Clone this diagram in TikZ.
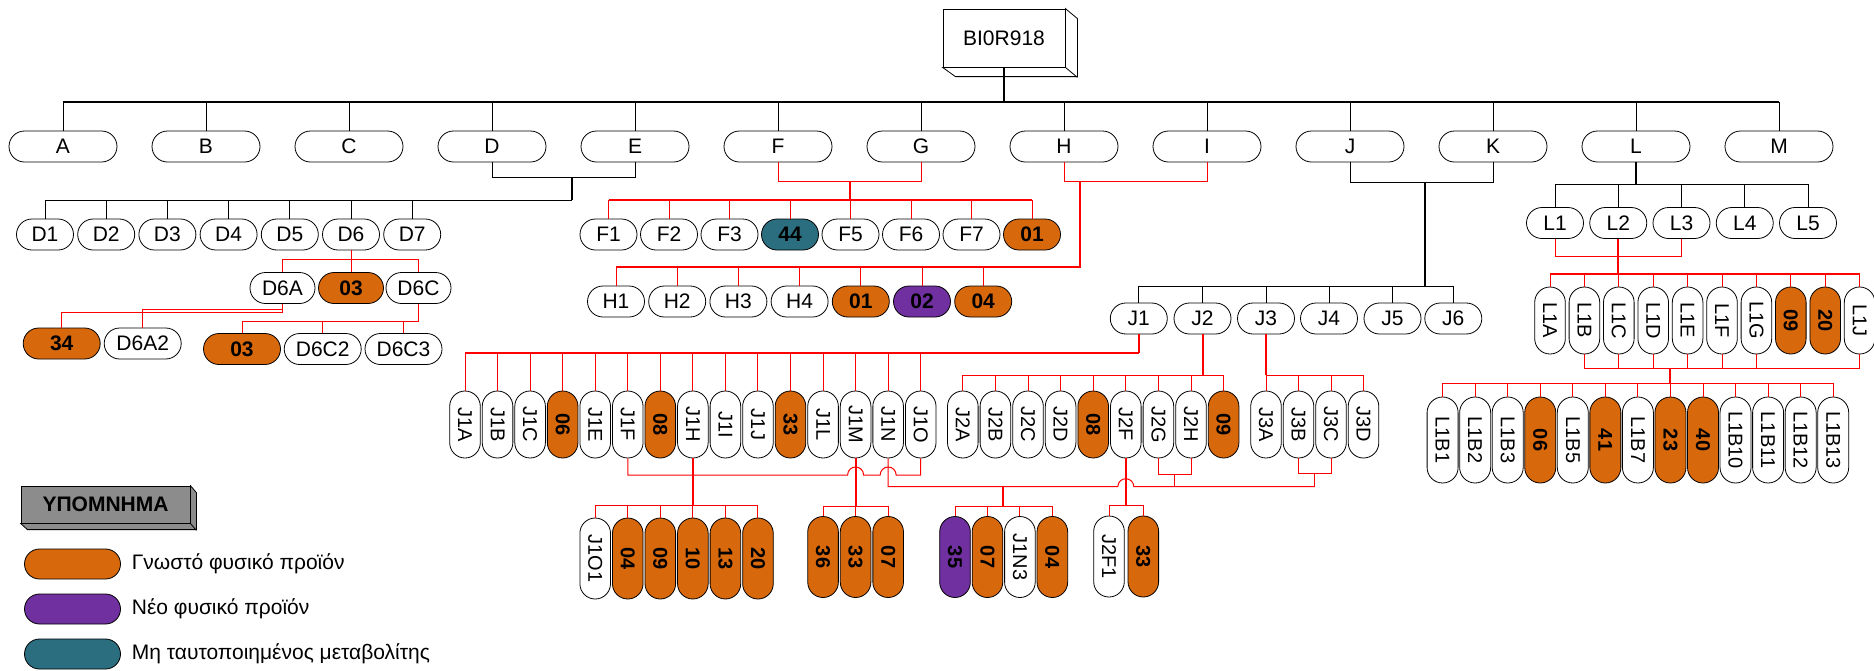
\documentclass[tikz,border=0pt]{standalone}
\usepackage{fontspec}
\setmainfont{Liberation Sans}
\usetikzlibrary{shapes.misc}
\definecolor{knownfill}{HTML}{D8680C}
\definecolor{novelfill}{HTML}{7030A0}
\definecolor{unknownfill}{HTML}{2A6E7F}
\definecolor{legendgray}{HTML}{8C8C8C}
\definecolor{treered}{HTML}{FF0000}
\tikzset{
  pill/.style={rounded rectangle, draw=black, fill=white, line width=0.8pt, inner sep=0pt, minimum width=57pt, minimum height=31pt, font=\fontsize{21}{25}\selectfont},
  toppill/.style={pill, minimum width=108pt},
  vpill/.style={pill, rotate=-90, minimum width=67pt, minimum height=30.6pt, font=\fontsize{20}{24}\selectfont},
  known/.style={fill=knownfill, execute at begin node=\bfseries},
  novel/.style={fill=novelfill, execute at begin node=\bfseries},
  unknown/.style={fill=unknownfill, execute at begin node=\bfseries},
  cube/.style={draw=black, fill=white, line width=0.8pt, inner sep=0pt, minimum width=122pt, minimum height=58pt, font=\fontsize{21}{25}\selectfont},
  treeline/.style={draw=black, line width=1pt},
  trunkline/.style={draw=black, line width=2pt},
  redline/.style={draw=treered, line width=1pt},
  redtrunk/.style={draw=treered, line width=2pt}
}

\begin{document}
\begin{tikzpicture}[x=1pt, y=-1pt]
  \useasboundingbox (0,0) rectangle (1874,670);

  % root
  \node[cube] (root) at (1004,38) {BI0R918};
  \draw[line width=0.8pt, fill=white] (root.north east) -- ++(12,10) -- ++(0,58) -- ++(-122,0) -- (root.south west) -- (root.south east) -- cycle;
  \draw[line width=0.8pt] (root.south east) -- ++(12,10);

  \node[toppill] (a) at (63,146.5) {A};
  \node[toppill] (b) at (206,146.5) {B};
  \node[toppill] (c) at (349,146.5) {C};
  \node[toppill] (d) at (492,146.5) {D};
  \node[toppill] (e) at (635,146.5) {E};
  \node[toppill] (f) at (778,146.5) {F};
  \node[toppill] (g) at (921,146.5) {G};
  \node[toppill] (h) at (1064,146.5) {H};
  \node[toppill] (i) at (1207,146.5) {I};
  \node[toppill] (j) at (1350,146.5) {J};
  \node[toppill] (k) at (1493,146.5) {K};
  \node[toppill] (l) at (1636,146.5) {L};
  \node[toppill] (m) at (1779,146.5) {M};

  % D branch
  \node[pill] (d1) at (45,234.5) {D1};
  \node[pill] (d2) at (106.2,234.5) {D2};
  \node[pill] (d3) at (167.4,234.5) {D3};
  \node[pill] (d4) at (228.6,234.5) {D4};
  \node[pill] (d5) at (289.8,234.5) {D5};
  \node[pill] (d6) at (351,234.5) {D6};
  \node[pill] (d7) at (412.2,234.5) {D7};

  \node[pill, minimum width=65pt] (d6a) at (282.5,288) {D6A};
  \node[pill, known, minimum width=65pt] (d6b) at (351,288) {03};
  \node[pill, minimum width=65pt] (d6c) at (418.5,288) {D6C};

  \node[pill, known, minimum width=77pt] (d6a1) at (61.7,343.5) {34};
  \node[pill, minimum width=77pt] (d6a2) at (142.7,343.5) {D6A2};
  \node[pill, known, minimum width=77pt] (d6c1) at (242,349) {03};
  \node[pill, minimum width=77pt] (d6c2) at (322.7,349) {D6C2};
  \node[pill, minimum width=77pt] (d6c3) at (403.5,349) {D6C3};

  % F, H branches
  \node[pill] (f1) at (608.5,234.5) {F1};
  \node[pill] (f2) at (669,234.5) {F2};
  \node[pill] (f3) at (729.5,234.5) {F3};
  \node[pill, unknown] (f4) at (790,234.5) {44};
  \node[pill] (f5) at (850.5,234.5) {F5};
  \node[pill] (f6) at (911,234.5) {F6};
  \node[pill] (f7) at (971.5,234.5) {F7};
  \node[pill, known] (f8) at (1032,234.5) {01};

  \node[pill] (h1) at (616,301.5) {H1};
  \node[pill] (h2) at (677.2,301.5) {H2};
  \node[pill] (h3) at (738.4,301.5) {H3};
  \node[pill] (h4) at (799.6,301.5) {H4};
  \node[pill, known] (h5) at (860.8,301.5) {01};
  \node[pill, novel] (h6) at (922,301.5) {02};
  \node[pill, known] (h7) at (983.2,301.5) {04};

  % J branch
  \node[pill] (j1) at (1138.8,318.5) {J1};
  \node[pill] (j2) at (1202.5,318.5) {J2};
  \node[pill] (j3) at (1266,318.5) {J3};
  \node[pill] (j4) at (1329,318.5) {J4};
  \node[pill] (j5) at (1392.5,318.5) {J5};
  \node[pill] (j6) at (1453.3,318.5) {J6};

  \node[vpill] (j1a) at (465,424.5) {J1A};
  \node[vpill] (j1b) at (497.55,424.5) {J1B};
  \node[vpill] (j1c) at (530.1,424.5) {J1C};
  \node[vpill, known] (j1d) at (562.65,424.5) {06};
  \node[vpill] (j1e) at (595.2,424.5) {J1E};
  \node[vpill] (j1f) at (627.75,424.5) {J1F};
  \node[vpill, known] (j1g) at (660.3,424.5) {08};
  \node[vpill] (j1h) at (692.85,424.5) {J1H};
  \node[vpill] (j1i) at (725.4,424.5) {J1I};
  \node[vpill] (j1j) at (757.95,424.5) {J1J};
  \node[vpill, known] (j1k) at (790.5,424.5) {33};
  \node[vpill] (j1l) at (823.05,424.5) {J1L};
  \node[vpill] (j1m) at (855.6,424.5) {J1M};
  \node[vpill] (j1n) at (888.15,424.5) {J1N};
  \node[vpill] (j1o) at (920.7,424.5) {J1O};

  \node[vpill, minimum width=81pt] (j1o1) at (595.2,558.5) {J1O1};
  \node[vpill, known, minimum width=81pt] (j1o2) at (627.75,558.5) {04};
  \node[vpill, known, minimum width=81pt] (j1o3) at (660.3,558.5) {09};
  \node[vpill, known, minimum width=81pt] (j1o4) at (692.85,558.5) {10};
  \node[vpill, known, minimum width=81pt] (j1o5) at (725.4,558.5) {13};
  \node[vpill, known, minimum width=81pt] (j1o6) at (757.95,558.5) {20};

  \node[vpill, known, minimum width=81pt] (j1m1) at (823.05,557) {36};
  \node[vpill, known, minimum width=81pt] (j1m2) at (855.6,557) {33};
  \node[vpill, known, minimum width=81pt] (j1m3) at (888.15,557) {07};

  \node[vpill, novel, minimum width=81pt] (j1n1) at (955,557) {35};
  \node[vpill, known, minimum width=81pt] (j1n2) at (987.45,557) {07};
  \node[vpill, minimum width=81pt] (j1n3) at (1019.9,557) {J1N3};
  \node[vpill, known, minimum width=81pt] (j1n4) at (1052.35,557) {04};

  \node[vpill] (j2a) at (962.8,424.5) {J2A};
  \node[vpill] (j2b) at (995.4,424.5) {J2B};
  \node[vpill] (j2c) at (1028,424.5) {J2C};
  \node[vpill] (j2d) at (1060.6,424.5) {J2D};
  \node[vpill, known] (j2e) at (1093.2,424.5) {08};
  \node[vpill] (j2f) at (1125.8,424.5) {J2F};
  \node[vpill] (j2g) at (1158.4,424.5) {J2G};
  \node[vpill] (j2h) at (1191,424.5) {J2H};
  \node[vpill, known] (j2i) at (1223.6,424.5) {09};

  \node[vpill, minimum width=81pt] (j2f1) at (1109,556.5) {J2F1};
  \node[vpill, known, minimum width=81pt] (j2f2) at (1143.3,556.5) {33};

  \node[vpill] (j3a) at (1266,424.5) {J3A};
  \node[vpill] (j3b) at (1298.5,424.5) {J3B};
  \node[vpill] (j3c) at (1331,424.5) {J3C};
  \node[vpill] (j3d) at (1363.5,424.5) {J3D};

  % L branch
  \node[pill] (l1) at (1555,223) {L1};
  \node[pill] (l2) at (1618.25,223) {L2};
  \node[pill] (l3) at (1681.5,223) {L3};
  \node[pill] (l4) at (1744.75,223) {L4};
  \node[pill] (l5) at (1808,223) {L5};

  \node[vpill] (l1a) at (1550,320.5) {L1A};
  \node[vpill] (l1b) at (1584.4,320.5) {L1B};
  \node[vpill] (l1c) at (1618.8,320.5) {L1C};
  \node[vpill] (l1d) at (1653.2,320.5) {L1D};
  \node[vpill] (l1e) at (1687.6,320.5) {L1E};
  \node[vpill] (l1f) at (1722,320.5) {L1F};
  \node[vpill] (l1g) at (1756.4,320.5) {L1G};
  \node[vpill, known] (l1h) at (1790.8,320.5) {09};
  \node[vpill, known] (l1i) at (1825.2,320.5) {20};
  \node[vpill] (l1j) at (1859.6,320.5) {L1J};

  \node[vpill, minimum width=86pt, minimum height=31pt] (l1b1) at (1442.6,440) {L1B1};
  \node[vpill, minimum width=86pt, minimum height=31pt] (l1b2) at (1475.15,440) {L1B2};
  \node[vpill, minimum width=86pt, minimum height=31pt] (l1b3) at (1507.7,440) {L1B3};
  \node[vpill, known, minimum width=86pt, minimum height=31pt] (l1b4) at (1540.25,440) {06};
  \node[vpill, minimum width=86pt, minimum height=31pt] (l1b5) at (1572.8,440) {L1B5};
  \node[vpill, known, minimum width=86pt, minimum height=31pt] (l1b6) at (1605.35,440) {41};
  \node[vpill, minimum width=86pt, minimum height=31pt] (l1b7) at (1637.9,440) {L1B7};
  \node[vpill, known, minimum width=86pt, minimum height=31pt] (l1b8) at (1670.45,440) {23};
  \node[vpill, known, minimum width=86pt, minimum height=31pt] (l1b9) at (1703,440) {40};
  \node[vpill, minimum width=86pt, minimum height=31pt] (l1b10) at (1735.55,440) {L1B10};
  \node[vpill, minimum width=86pt, minimum height=31pt] (l1b11) at (1768.1,440) {L1B11};
  \node[vpill, minimum width=86pt, minimum height=31pt] (l1b12) at (1800.65,440) {L1B12};
  \node[vpill, minimum width=86pt, minimum height=31pt] (l1b13) at (1833.2,440) {L1B13};

  % legend
  \node[draw=black, fill=legendgray, line width=0.8pt, minimum width=169pt, minimum height=37pt, font=\fontsize{21}{25}\selectfont\bfseries] (legend) at (105.5,504.5) {ΥΠΟΜΝΗΜΑ};
  \draw[line width=0.8pt, fill=legendgray] (legend.north east) -- ++(6,7) -- ++(0,37) -- ++(-169,0) -- (legend.south west) -- (legend.south east) -- cycle;
  \draw[line width=0.8pt] (legend.south east) -- ++(6,7);
  \node[pill, known, minimum width=96pt, minimum height=30pt] (keyknown) at (72.5,564) {};
  \node[pill, novel, minimum width=96pt, minimum height=30pt] (keynovel) at (72.5,609) {};
  \node[pill, unknown, minimum width=96pt, minimum height=30pt] (keyunknown) at (72.5,654) {};
  \node[anchor=west, inner sep=0pt, font=\fontsize{21}{25}\selectfont] (keyknowntext) at (131.7,564) {Γνωστό φυσικό προϊόν};
  \node[anchor=west, inner sep=0pt, font=\fontsize{21}{25}\selectfont] (keynoveltext) at (131.7,609) {Νέο φυσικό προϊόν};
  \node[anchor=west, inner sep=0pt, font=\fontsize{21}{25}\selectfont] (keyunknowntext) at (131.7,654) {Μη ταυτοποιημένος μεταβολίτης};

  % connectors: top level
  \coordinate (rootbus) at (1004,102);
  \draw[trunkline] (root.south) -- (rootbus);
  \draw[treeline, line width=1.5pt] (a.north |- rootbus) -- (m.north |- rootbus);
  \foreach \n in {a,b,c,d,e,f,g,h,i,j,k,l,m} \draw[treeline] (rootbus) -| (\n.north);

  % D, E
  \coordinate (dej) at (571.5,177);
  \coordinate (dbus) at (571.5,200);
  \draw[treeline] (d.south) -- ++(0,15) -| (e.south);
  \draw[trunkline] (dej) -- (dbus);
  \draw[treeline] (d1.north |- dbus) -- (dbus);
  \foreach \n in {d1,d2,d3,d4,d5,d6,d7} \draw[treeline] (dbus) -| (\n.north);
  \coordinate (d6bus) at (351,259);
  \draw[redline] (d6.south) -- (d6bus);
  \foreach \n in {d6a,d6b,d6c} \draw[redline] (d6bus) -| (\n.north);
  \draw[redline] (d6a.south) -- ++(0,6) -| (d6a2.north);
  \draw[redline] (d6a.south) -- ++(0,9) -| (d6a1.north);
  \draw[redline] (d6c.south) -- ++(0,18) coordinate (d6cbus);
  \foreach \n in {d6c1,d6c2,d6c3} \draw[redline] (d6cbus) -| (\n.north);

  % F, G
  \coordinate (fgj) at (850,181);
  \coordinate (fgbus) at (850,200);
  \draw[redline] (f.south) -- ++(0,19) -| (g.south);
  \draw[redtrunk] (fgj) -- (fgbus);
  \draw[redline, line width=1.5pt] (f1.north |- fgbus) -- (f8.north |- fgbus);
  \foreach \n in {f1,f2,f3,f4,f5,f6,f7,f8} \draw[redline] (fgbus) -| (\n.north);

  % H, I
  \coordinate (hij) at (1080,181);
  \coordinate (hibus) at (1080,267);
  \draw[redline] (h.south) -- ++(0,19) -| (i.south);
  \draw[redtrunk] (hij) -- (hibus) -- (h1.north |- hibus);
  \foreach \n in {h1,h2,h3,h4,h5,h6,h7} \draw[redline] (hibus) -| (\n.north);

  % J, K
  \coordinate (jkj) at (1425,182);
  \coordinate (jkbus) at (1425,286);
  \draw[treeline] (j.south) -- ++(0,20) -| (k.south);
  \draw[trunkline] (jkj) -- (jkbus);
  \draw[treeline] (j1.north |- jkbus) -- (j6.north |- jkbus);
  \foreach \n in {j1,j2,j3,j4,j5,j6} \draw[treeline] (jkbus) -| (\n.north);

  \coordinate (j1bus) at (1138.8,353);
  \draw[redtrunk] (j1.south) -- (j1bus);
  \draw[redline, line width=1.5pt] (j1a.west |- j1bus) -- (j1bus);
  \foreach \n in {j1a,j1b,j1c,j1d,j1e,j1f,j1g,j1h,j1i,j1j,j1k,j1l,j1m,j1n,j1o} \draw[redline] (j1bus) -| (\n.west);

  \coordinate (hopa) at (847.6,475);
  \coordinate (hopb) at (880.15,475);
  \draw[redline] (j1f.east) |- (hopa) arc[start angle=180, end angle=0, radius=8pt] -- (hopb) arc[start angle=180, end angle=0, radius=8pt] -| (j1o.east);
  \coordinate (j1hbus) at (692.85,505.7);
  \draw[redtrunk] (j1h.east) -- (j1hbus);
  \draw[redline] (j1o1.west |- j1hbus) -- (j1o6.west |- j1hbus);
  \foreach \n in {j1o1,j1o2,j1o3,j1o4,j1o5,j1o6} \draw[redline] (j1hbus) -| (\n.west);

  \coordinate (j1mbus) at (855.6,506.7);
  \draw[redtrunk] (j1m.east) -- (j1mbus);
  \foreach \n in {j1m1,j1m2,j1m3} \draw[redline] (j1mbus) -| (\n.west);

  \coordinate (hopc) at (1117.8,486.7);
  \coordinate (nbusend) at (1314.75,486.7);
  \draw[redline] (j1n.east) |- (hopc) arc[start angle=180, end angle=0, radius=8pt] -- (nbusend);
  \draw[redline] (j2g.east) -- ++(0,16.3) -| (j2h.east);
  \coordinate (j2ghj) at (1174.7,474.3);
  \draw[redline] (j2ghj) -- (j2ghj |- nbusend);
  \draw[redline] (j3b.east) -- ++(0,14.7) -| (j3c.east);
  \coordinate (j3bcj) at (1314.75,472.7);
  \draw[redline] (j3bcj) -- (nbusend);
  \coordinate (nkj) at (1003.3,486.7);
  \coordinate (nkbus) at (1003.3,506.7);
  \draw[redtrunk] (nkj) -- (nkbus);
  \foreach \n in {j1n1,j1n2,j1n3,j1n4} \draw[redline] (nkbus) -| (\n.west);

  \coordinate (j2bus) at (1202.5,375);
  \draw[redtrunk] (j2.south) -- (j2bus);
  \draw[redline] (j2a.west |- j2bus) -- (j2i.west |- j2bus);
  \foreach \n in {j2a,j2b,j2c,j2d,j2e,j2f,j2g,j2h,j2i} \draw[redline] (j2bus) -| (\n.west);
  \coordinate (j2fbus) at (1125.8,505.7);
  \draw[redtrunk] (j2f.east) -- (j2fbus);
  \foreach \n in {j2f1,j2f2} \draw[redline] (j2fbus) -| (\n.west);

  \coordinate (j3bus) at (1266,375);
  \draw[redtrunk] (j3.south) -- (j3bus);
  \foreach \n in {j3a,j3b,j3c,j3d} \draw[redline] (j3bus) -| (\n.west);

  % L
  \coordinate (lbus) at (1636,184.5);
  \draw[trunkline] (l.south) -- (lbus);
  \draw[treeline] (l1.north |- lbus) -- (l5.north |- lbus);
  \foreach \n in {l1,l2,l3,l4,l5} \draw[treeline] (lbus) -| (\n.north);
  \coordinate (l2bus) at (1618.25,274);
  \draw[redline] (l1.south) -- ++(0,17.5) -| (l3.south);
  \draw[redtrunk] (l2.south) -- (l2bus);
  \draw[redline, line width=1.5pt] (l1a.west |- l2bus) -- (l1j.west |- l2bus);
  \foreach \n in {l1a,l1b,l1c,l1d,l1e,l1f,l1g,l1h,l1i,l1j} \draw[redline] (l2bus) -| (\n.west);
  \draw[redline] (l1b.east) -- ++(0,14) -| (l1j.east);
  \foreach \n in {l1c,l1d,l1e,l1f,l1g} \draw[redline] (\n.east) -- ++(0,14);
  \coordinate (l1bj) at (1670.45,368);
  \coordinate (l1bbus) at (1670.45,383.3);
  \draw[redtrunk] (l1bj) -- (l1bbus);
  \draw[redline, line width=1.5pt] (l1b1.west |- l1bbus) -- (l1b13.west |- l1bbus);
  \foreach \n in {l1b1,l1b2,l1b3,l1b4,l1b5,l1b6,l1b7,l1b8,l1b9,l1b10,l1b11,l1b12,l1b13} \draw[redline] (l1bbus) -| (\n.west);
\end{tikzpicture}
\end{document}
